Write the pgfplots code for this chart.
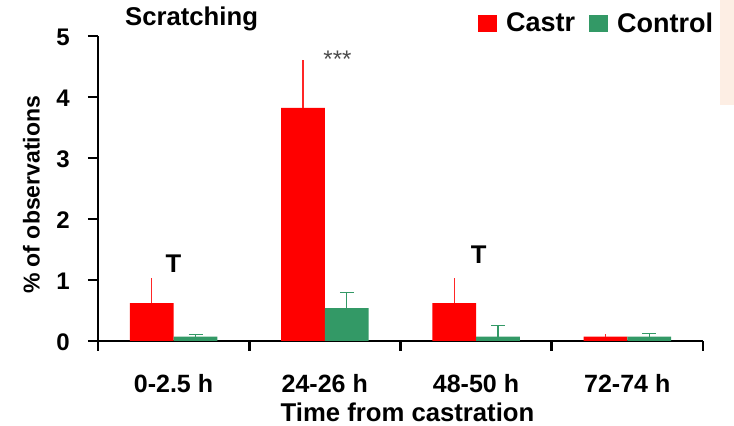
\documentclass[border=0pt]{standalone}
\usepackage{pgfplots}
\pgfplotsset{compat=1.18}
\usepackage{fontspec}
\setmainfont{Liberation Sans}
\definecolor{cred}{RGB}{255,0,0}
\definecolor{cgreen}{RGB}{51,153,102}
\definecolor{peach}{RGB}{253,238,228}
\begin{document}
\begin{tikzpicture}
\begin{axis}[
  name=ax,
  scale only axis, width=605pt, height=305pt,
  xmin=0, xmax=4, ymin=0, ymax=5,
  axis x line*=bottom, axis y line*=left,
  axis line style={line width=2.6pt, black},
  xtick={0,1,2,3,4},
  xticklabels={0-2.5 h,24-26 h,48-50 h,72-74 h,{}},
  ytick={0,1,2,3,4,5},
  tick align=outside,
  major tick length=10pt,
  tick style={line width=2.6pt, black},
  /pgf/number format/assume math mode=true,
  xticklabel style={font=\fontsize{25}{30}\selectfont\bfseries, anchor=base, xshift=75.5pt, yshift=-42pt, inner sep=0pt},
  yticklabel style={font=\fontsize{24}{28}\selectfont\bfseries, anchor=east, xshift=-18pt, yshift=-1.5pt, inner sep=0pt},
  xlabel={Time from castration},
  xlabel style={at={(axis description cs:0.5116,-0.264)}, anchor=base, inner sep=0pt, font=\fontsize{25.7}{30}\selectfont\bfseries},
  ylabel={\% of observations},
  ylabel style={at={(axis description cs:-0.0956,0.479)}, anchor=south, inner sep=0pt, font=\fontsize{23}{28}\selectfont\bfseries},
  title={Scratching},
  title style={at={(axis description cs:0.0446,1.014)}, anchor=base west, yshift=0pt, inner sep=0pt, font=\fontsize{25.7}{30}\selectfont\bfseries},
  legend style={draw=none, fill=none, at={(axis description cs:0.628,1.042)}, anchor=west, inner sep=0pt,
    font=\fontsize{27}{32}\selectfont\bfseries, nodes={inner sep=0pt},
    /tikz/every odd column/.append style={column sep=9pt},
    /tikz/every even column/.append style={column sep=14pt}},
  legend columns=2,
  legend cell align=left,
  clip=false,
]
\fill[peach] (axis cs:4.113,3.87) rectangle (axis cs:4.3,5.8);

\addplot[ybar, bar width=0.29, bar shift=0pt, fill=cred, draw=none,
  legend image code/.code={\fill[cred] (0pt,-8.5pt) rectangle (19pt,8.5pt);},
  error bars/.cd, y dir=plus, y explicit, error mark=none,
  error bar style={draw=red!85!white, line width=1.2pt}]
  coordinates {(0.355,0.62) +- (0,0.41) (1.355,3.82) +- (0,0.79) (2.355,0.62) +- (0,0.41) (3.355,0.07) +- (0,0.04)};
\addlegendentry{Castr}

\addplot[ybar, bar width=0.29, bar shift=0pt, fill=cgreen, draw=none,
  legend image code/.code={\fill[cgreen] (0pt,-8.5pt) rectangle (19pt,8.5pt);},
  error bars/.cd, y dir=plus, y explicit, error mark=-,
  error bar style={draw=cgreen, line width=1.2pt},
  error mark options={rotate=90, draw=cgreen, mark size=7pt, line width=1.2pt}]
  coordinates {(0.645,0.07) +- (0,0.04) (1.645,0.54) +- (0,0.26) (2.645,0.07) +- (0,0.19) (3.645,0.07) +- (0,0.05)};
\addlegendentry{Control}

\node[anchor=base, inner sep=0pt, font=\fontsize{25.6}{30}\selectfont\bfseries] at (axis cs:0.499,1.126) {T};
\node[anchor=base, inner sep=0pt, font=\fontsize{25.6}{30}\selectfont\bfseries] at (axis cs:2.517,1.27) {T};
\node[anchor=base, inner sep=0pt, font=\fontsize{24}{28}\selectfont, text=black!70] at (axis cs:1.583,4.49) {***};
\end{axis}
\pgfresetboundingbox
\path[use as bounding box] ([shift={(-98pt,-85pt)}]ax.south west) rectangle ([shift={(31pt,36pt)}]ax.north east);
\end{tikzpicture}
\end{document}
